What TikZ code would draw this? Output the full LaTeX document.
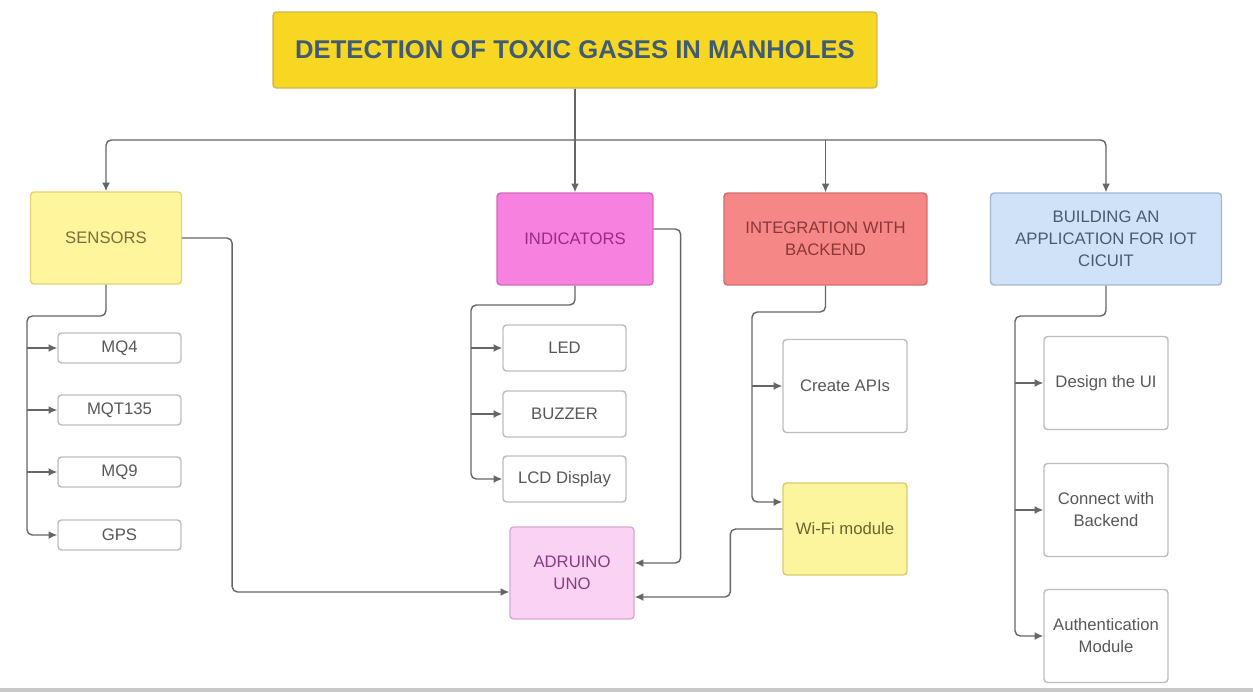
\documentclass[tikz,border=0pt]{standalone}
\usepackage{fontspec}
\setmainfont{Liberation Sans}
\usepackage{tikz}
\usetikzlibrary{arrows.meta}
\definecolor{TitleFill}{HTML}{F7D722}
\definecolor{TitleLine}{HTML}{D2B84A}
\definecolor{TitleText}{HTML}{3F5C74}
\definecolor{SensorFill}{HTML}{FFF59C}
\definecolor{SensorLine}{HTML}{E2D470}
\definecolor{SensorText}{HTML}{77703A}
\definecolor{IndFill}{HTML}{F781DF}
\definecolor{IndLine}{HTML}{D566BE}
\definecolor{IndText}{HTML}{982C84}
\definecolor{IntFill}{HTML}{F58787}
\definecolor{IntLine}{HTML}{D66B6B}
\definecolor{IntText}{HTML}{8C3737}
\definecolor{AppFill}{HTML}{CFE2F7}
\definecolor{AppLine}{HTML}{A2B7CF}
\definecolor{AppText}{HTML}{4A5B6E}
\definecolor{UnoFill}{HTML}{FAD2F4}
\definecolor{UnoLine}{HTML}{D8A8D1}
\definecolor{UnoText}{HTML}{873C83}
\definecolor{WifiFill}{HTML}{FCF59E}
\definecolor{WifiLine}{HTML}{D8CE6C}
\definecolor{WifiText}{HTML}{6A652C}
\definecolor{LeafLine}{HTML}{BDBDBD}
\definecolor{LeafText}{HTML}{585858}
\definecolor{LinkGray}{HTML}{666666}
\definecolor{BarGray}{HTML}{C8C8C8}
\tikzstyle{box} = [rectangle, draw, rounded corners=2pt, align=center, line width=0.8pt,
                   font=\fontsize{9.5}{12.5}\selectfont]
\tikzstyle{topic} = [box, minimum height=1.84cm]
\tikzstyle{leaf} = [box, draw=LeafLine, fill=white, text=LeafText]
\tikzstyle{card} = [leaf, minimum width=2.48cm, minimum height=1.86cm]
\tikzstyle{link} = [draw=LinkGray, line width=0.8pt, rounded corners=3pt]
\tikzstyle{arrow} = [link, -{Latex[length=5pt, width=4.5pt]}]

\begin{document}
\begin{tikzpicture}[x=0.02cm, y=-0.02cm]
				\fill[white] (0,0) rectangle (1253,693);
				\useasboundingbox (0,0) rectangle (1253,693);

				\node (Title) [box, fill=TitleFill, draw=TitleLine, text=TitleText, font=\fontsize{14.6}{17}\selectfont\bfseries,
				               minimum width=12.08cm, minimum height=1.52cm] at (575, 50) {DETECTION OF TOXIC GASES IN MANHOLES};
				\coordinate (Hub) at (575, 140);
				\draw[link] (Title) -- (Hub);

				\node (Sensors) [topic, fill=SensorFill, draw=SensorLine, text=SensorText, minimum width=3.02cm] at (106, 238) {SENSORS};
				\node (Indicators) [topic, fill=IndFill, draw=IndLine, text=IndText, minimum width=3.12cm] at (575, 239) {INDICATORS};
				\node (Integration) [topic, fill=IntFill, draw=IntLine, text=IntText, minimum width=4.06cm] at (825.5, 239) {INTEGRATION WITH\\BACKEND};
				\node (Building) [topic, fill=AppFill, draw=AppLine, text=AppText, minimum width=4.62cm] at (1106, 239) {BUILDING AN\\APPLICATION FOR IOT\\CICUIT};
				\draw[arrow] (Hub) -| (Sensors.north);
				\draw[arrow] (Hub) -- (Indicators.north);
				\draw[arrow] (Hub -| Integration) -- (Integration.north);
				\draw[arrow] (Hub) -| (Building.north);

				\node (MQ4) [leaf, minimum width=2.46cm, minimum height=0.6cm] at (119.5, 348) {MQ4};
				\node (MQT135) [leaf, minimum width=2.46cm, minimum height=0.6cm] at (119.5, 410) {MQT135};
				\node (MQ9) [leaf, minimum width=2.46cm, minimum height=0.6cm] at (119.5, 472) {MQ9};
				\node (GPS) [leaf, minimum width=2.46cm, minimum height=0.6cm] at (119.5, 535) {GPS};
				\coordinate (SensorBus) at (27, 316);
				\draw[arrow] (Sensors.south) |- (SensorBus) |- (GPS.west);
				\draw[arrow] (SensorBus |- MQ4.west) -- (MQ4.west);
				\draw[arrow] (SensorBus |- MQT135.west) -- (MQT135.west);
				\draw[arrow] (SensorBus |- MQ9.west) -- (MQ9.west);

				\node (LED) [leaf, minimum width=2.46cm, minimum height=0.92cm] at (564.5, 348) {LED};
				\node (Buzzer) [leaf, minimum width=2.46cm, minimum height=0.92cm] at (564.5, 414) {BUZZER};
				\node (LCD) [leaf, minimum width=2.46cm, minimum height=0.92cm] at (564.5, 479) {LCD Display};
				\coordinate (IndBus) at (471, 305);
				\draw[arrow] (Indicators.south) |- (IndBus) |- (LCD.west);
				\draw[arrow] (IndBus |- LED.west) -- (LED.west);
				\draw[arrow] (IndBus |- Buzzer.west) -- (Buzzer.west);

				\node (Adruino) [box, fill=UnoFill, draw=UnoLine, text=UnoText, minimum width=2.48cm, minimum height=1.84cm] at (572, 573) {ADRUINO\\UNO};

				\node (Apis) [card] at (845, 386) {Create APIs};
				\node (Wifi) [box, fill=WifiFill, draw=WifiLine, text=WifiText, minimum width=2.48cm, minimum height=1.84cm] at (845, 529) {Wi-Fi module};
				\coordinate (IntBus) at (752, 312);
				\draw[arrow] (Integration.south) |- (IntBus) |- ([yshift=0.54cm]Wifi.west);
				\draw[arrow] (IntBus |- Apis.west) -- (Apis.west);

				\node (Design) [card] at (1106, 383) {Design the UI};
				\node (Connect) [card] at (1106, 510) {Connect with\\Backend};
				\node (Auth) [card] at (1106, 636) {Authentication\\Module};
				\coordinate (AppBus) at (1015, 316);
				\draw[arrow] (Building.south) |- (AppBus) |- (Auth.west);
				\draw[arrow] (AppBus |- Design.west) -- (Design.west);
				\draw[arrow] (AppBus |- Connect.west) -- (Connect.west);

				\draw[arrow] (Sensors.east) -- ++(50, 0) |- ([yshift=-0.38cm]Adruino.west);
				\draw[arrow] ([yshift=0.2cm]Indicators.east) -- ++(27, 0) |- ([yshift=0.2cm]Adruino.east);
				\draw[arrow] (Wifi.west) -- ++(-52, 0) |- ([yshift=-0.48cm]Adruino.east);

				\draw[BarGray, line width=2pt] (0, 690) -- (1253, 690);
			\end{tikzpicture}
\end{document}
